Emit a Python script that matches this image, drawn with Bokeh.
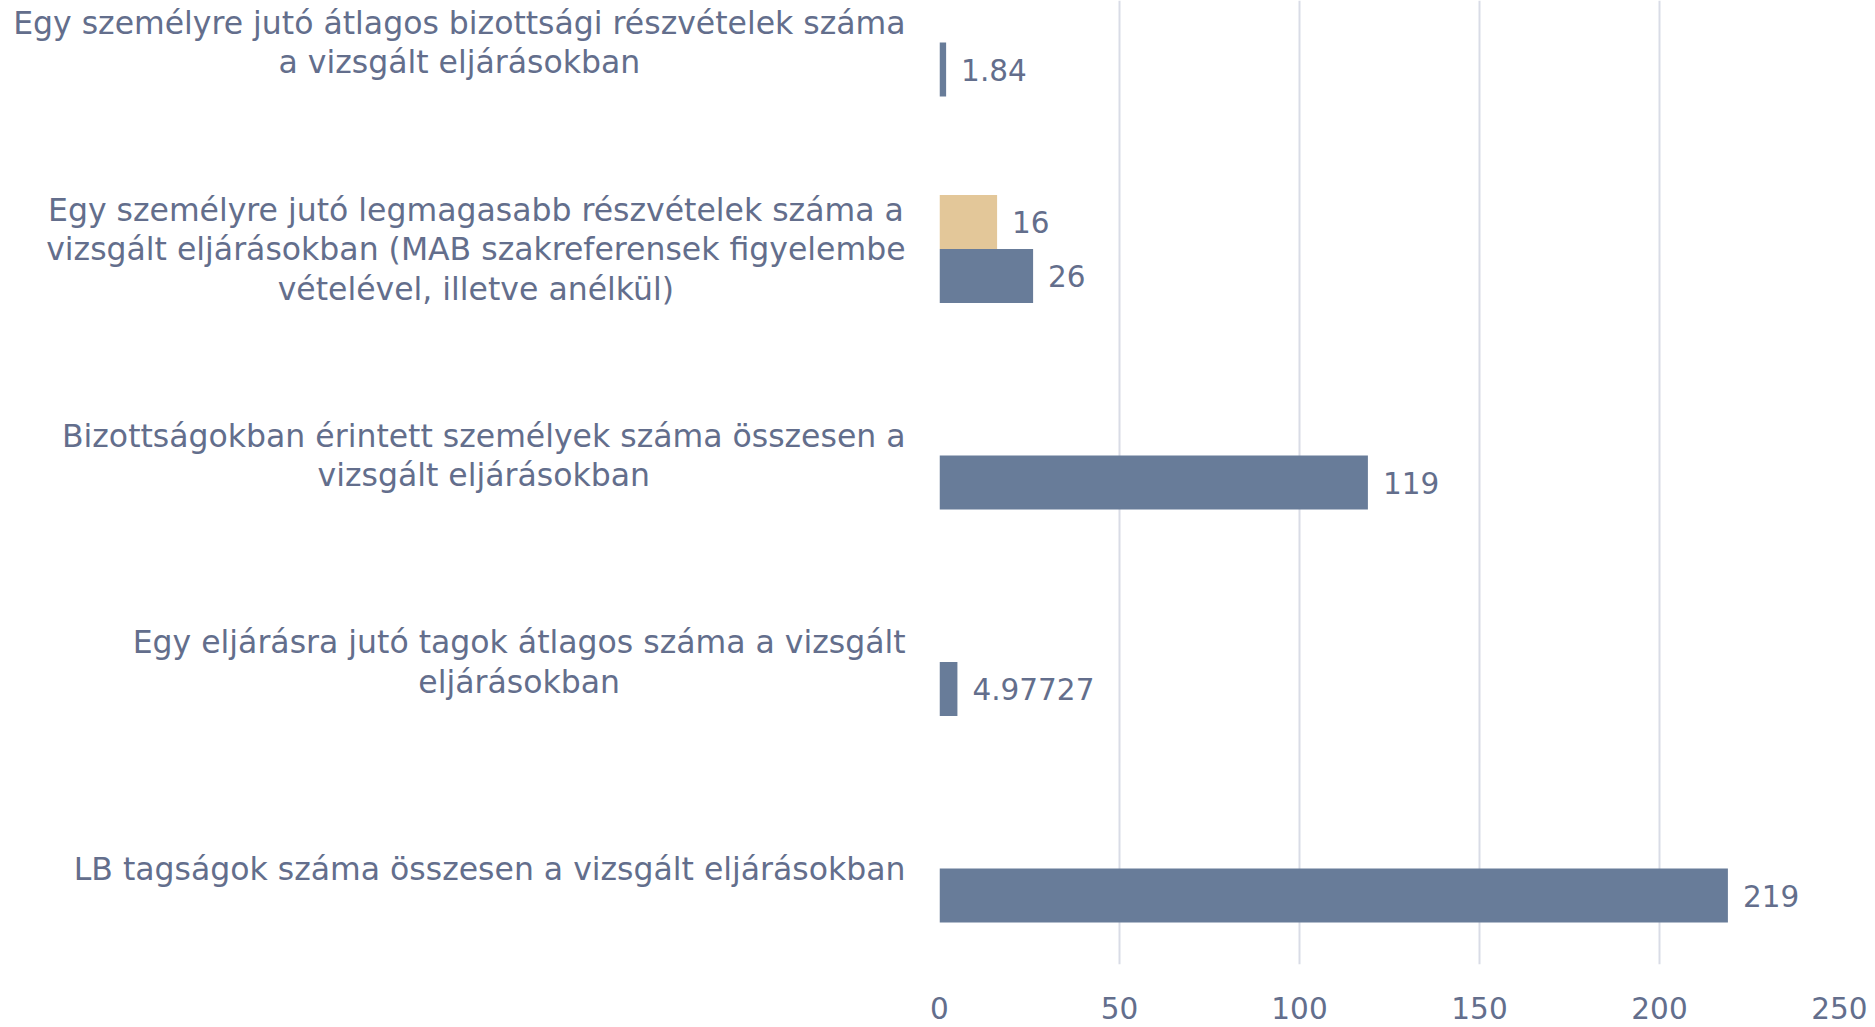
import glob, os
from bokeh.plotting import figure
from bokeh.layouts import row
from bokeh.models import Range1d, ColumnDataSource, FixedTicker
from bokeh.core.properties import value
from bokeh.embed import file_html
from bokeh.resources import INLINE

# ---------------- data ----------------
category_lines = [
    ["Egy személyre jutó átlagos bizottsági részvételek száma", "a vizsgált eljárásokban"],
    ["Egy személyre jutó legmagasabb részvételek száma a",
     "vizsgált eljárásokban (MAB szakreferensek figyelembe",
     "vételével, illetve anélkül)"],
    ["Bizottságokban érintett személyek száma összesen a", "vizsgált eljárásokban"],
    ["Egy eljárásra jutó tagok átlagos száma a vizsgált", "eljárásokban"],
    ["LB tagságok száma összesen a vizsgált eljárásokban"],
]
blue_values = [1.84, 26, 119, 4.97727, 219]
tan_values = [None, 16, None, None, None]
x_ticks = [0, 50, 100, 150, 200, 250]

# ---------------- style ----------------
FONT = "DejaVu Sans"
FONT_FILES = ["DejaVuSans.ttf"]
FS_LABEL = 31.5
FS_NUM = 29.5
TEXT_COLOR = "#636E8C"
BLUE = "#687C99"
TAN = "#E3C799"
GRID = "#D9DCE6"

LEFT_W = 925
RIGHT_W = 942
H_TOTAL = 1025
BORDER_B = 61
FRAME_H = H_TOTAL - BORDER_B
SPACING_PX = 206.5
FIRST_CENTER_PX = 42
Y_TOP = -FIRST_CENTER_PX / SPACING_PX
Y_BOT = (FRAME_H - FIRST_CENTER_PX) / SPACING_PX
BAR_H = 54 / SPACING_PX
LINE_H = 39.5 / SPACING_PX
TEXT_RIGHT = 905


def find_font(names):
    for n in names:
        for base in ["/usr/share/fonts", "/usr/local/share/fonts", os.path.expanduser("~/.fonts"),
                     os.path.expanduser("~/.local/share/fonts")]:
            hits = glob.glob(os.path.join(base, "**", n), recursive=True)
            if hits:
                return hits[0]
    return None


def make_measure(size):
    try:
        from PIL import ImageFont
        path = find_font(FONT_FILES)
        if path:
            f = ImageFont.truetype(path, size)
            return lambda s: f.getlength(s)
    except Exception:
        pass
    return lambda s: len(s) * 0.58 * size


measure = make_measure(FS_LABEL)

# ---------------- left labels figure ----------------
y_range = Range1d(Y_BOT, Y_TOP)
left = figure(width=LEFT_W, height=H_TOTAL, x_range=Range1d(0, LEFT_W), y_range=y_range,
              output_backend="svg", toolbar_location=None, min_border_left=0,
              min_border_right=0, min_border_top=0, min_border_bottom=BORDER_B)
left.axis.visible = False
left.grid.visible = False
left.outline_line_color = None

lx, ly, lt = [], [], []
for i, lines in enumerate(category_lines):
    block_w = max(measure(s) for s in lines)
    cx = TEXT_RIGHT - block_w / 2
    n = len(lines)
    for k, s in enumerate(lines):
        lx.append(cx)
        ly.append(i + (k - (n - 1) / 2) * LINE_H)
        lt.append(s)
left.text(x=lx, y=ly, text=lt, text_align="center", text_baseline="middle",
          text_font=value(FONT), text_font_size=f"{FS_LABEL}px", text_color=TEXT_COLOR)

# ---------------- bars figure ----------------
p = figure(width=RIGHT_W, height=H_TOTAL, x_range=Range1d(0, 250), y_range=y_range,
           output_backend="svg", toolbar_location=None, min_border_left=14,
           min_border_right=28, min_border_top=0, min_border_bottom=BORDER_B)
p.outline_line_color = None
p.yaxis.visible = False
p.ygrid.visible = False
p.xgrid.grid_line_color = GRID
p.xgrid.grid_line_width = 2
p.xaxis.ticker = FixedTicker(ticks=x_ticks)
p.xaxis.axis_line_color = None
p.xaxis.major_tick_line_color = None
p.xaxis.minor_tick_line_color = None
p.xaxis.major_label_text_font = FONT
p.xaxis.major_label_text_font_size = f"{FS_NUM}px"
p.xaxis.major_label_text_color = TEXT_COLOR
p.xaxis.major_label_standoff = 26

idx = list(range(len(blue_values)))
blue_src = ColumnDataSource(dict(y=[i + BAR_H / 2 for i in idx], v=blue_values,
                                 lab=[f"{v:g}" for v in blue_values]))
ti = [i for i in idx if tan_values[i] is not None]
tan_src = ColumnDataSource(dict(y=[i - BAR_H / 2 for i in ti], v=[tan_values[i] for i in ti],
                                lab=[f"{tan_values[i]:g}" for i in ti]))

for src, col in [(tan_src, TAN), (blue_src, BLUE)]:
    p.hbar(y="y", left=0, right="v", height=BAR_H, source=src, fill_color=col, line_color=None)
    p.text(x="v", y="y", text="lab", source=src, x_offset=15, text_align="left",
           text_baseline="middle", text_font=value(FONT), text_font_size=f"{FS_NUM}px",
           text_color=TEXT_COLOR)

layout = row(left, p, spacing=0)
open("out.html", "w").write(file_html(layout, INLINE))
